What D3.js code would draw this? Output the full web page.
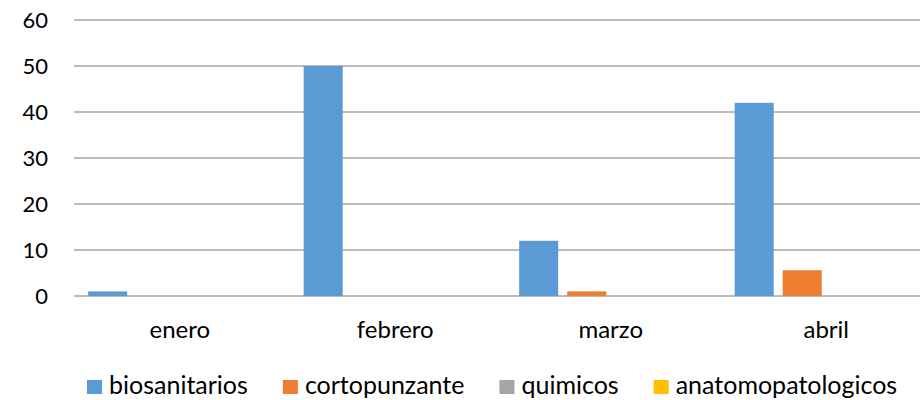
<!DOCTYPE html>
<html>
<head>
<meta charset="utf-8">
<script src="https://cdn.jsdelivr.net/npm/d3@7"></script>
<style>
  body { margin: 0; background: #fff; }
  text { font-family: Lato, "Open Sans", sans-serif; fill: #000; }
</style>
</head>
<body>
<div id="chart"></div>
<script>
const months = ["enero", "febrero", "marzo", "abril"];
const seriesNames = ["biosanitarios", "cortopunzante", "quimicos", "anatomopatologicos"];
const biosanitarios = [1, 50, 12, 42];
const cortopunzante = [0, 0, 1, 5.6];
const quimicos = [0, 0, 0, 0];
const anatomopatologicos = [0, 0, 0, 0];
const yTicks = [0, 10, 20, 30, 40, 50, 60];
const colors = ["#5b9bd5", "#ed7d31", "#a5a5a5", "#ffc000"];

const seriesValues = [biosanitarios, cortopunzante, quimicos, anatomopatologicos];

const width = 920;
const height = 400;

const svg = d3.select("#chart").append("svg")
  .attr("width", width)
  .attr("height", height);

const x0 = d3.scaleBand()
  .domain(months)
  .range([72, 934]);

const cluster = x0.bandwidth() * 0.85;
const x1 = d3.scaleBand()
  .domain(seriesNames)
  .range([(x0.bandwidth() - cluster) / 2, (x0.bandwidth() + cluster) / 2])
  .paddingInner(0.1875);

const y = d3.scaleLinear()
  .domain([0, 60])
  .range([296, 20]);

// gridlines
svg.append("g")
  .selectAll("line")
  .data(yTicks)
  .enter()
  .append("line")
  .attr("x1", 74)
  .attr("x2", 936)
  .attr("y1", d => y(d))
  .attr("y2", d => y(d))
  .attr("stroke", "#a6a6a6")
  .attr("stroke-width", 1.5);

// y tick labels
svg.append("g")
  .selectAll("text")
  .data(yTicks)
  .enter()
  .append("text")
  .attr("x", 48)
  .attr("y", d => y(d))
  .attr("dy", "0.36em")
  .attr("text-anchor", "end")
  .style("font-size", "22px")
  .text(d => d);

// bars
const groups = svg.append("g")
  .selectAll("g")
  .data(months)
  .enter()
  .append("g")
  .attr("transform", d => `translate(${x0(d)},0)`);

groups.selectAll("rect")
  .data((m, i) => seriesNames.map((s, j) => ({ s: s, v: seriesValues[j][i], c: colors[j] })))
  .enter()
  .append("rect")
  .attr("x", d => x1(d.s))
  .attr("width", x1.bandwidth())
  .attr("y", d => y(d.v))
  .attr("height", d => y(0) - y(d.v))
  .attr("fill", d => d.c);

// category labels
svg.append("g")
  .selectAll("text")
  .data(months)
  .enter()
  .append("text")
  .attr("x", d => x0(d) + x0.bandwidth() / 2)
  .attr("y", 338)
  .attr("text-anchor", "middle")
  .style("font-size", "24px")
  .text(d => d);

// legend
const legend = svg.append("g");
let lx = 87;
seriesNames.forEach((name, i) => {
  legend.append("rect")
    .attr("x", lx)
    .attr("y", 380)
    .attr("width", 15)
    .attr("height", 14)
    .attr("fill", colors[i]);
  const t = legend.append("text")
    .attr("x", lx + 22)
    .attr("y", 394)
    .style("font-size", "25px")
    .text(name);
  lx += 22 + t.node().getComputedTextLength() + 35;
});
</script>
</body>
</html>
